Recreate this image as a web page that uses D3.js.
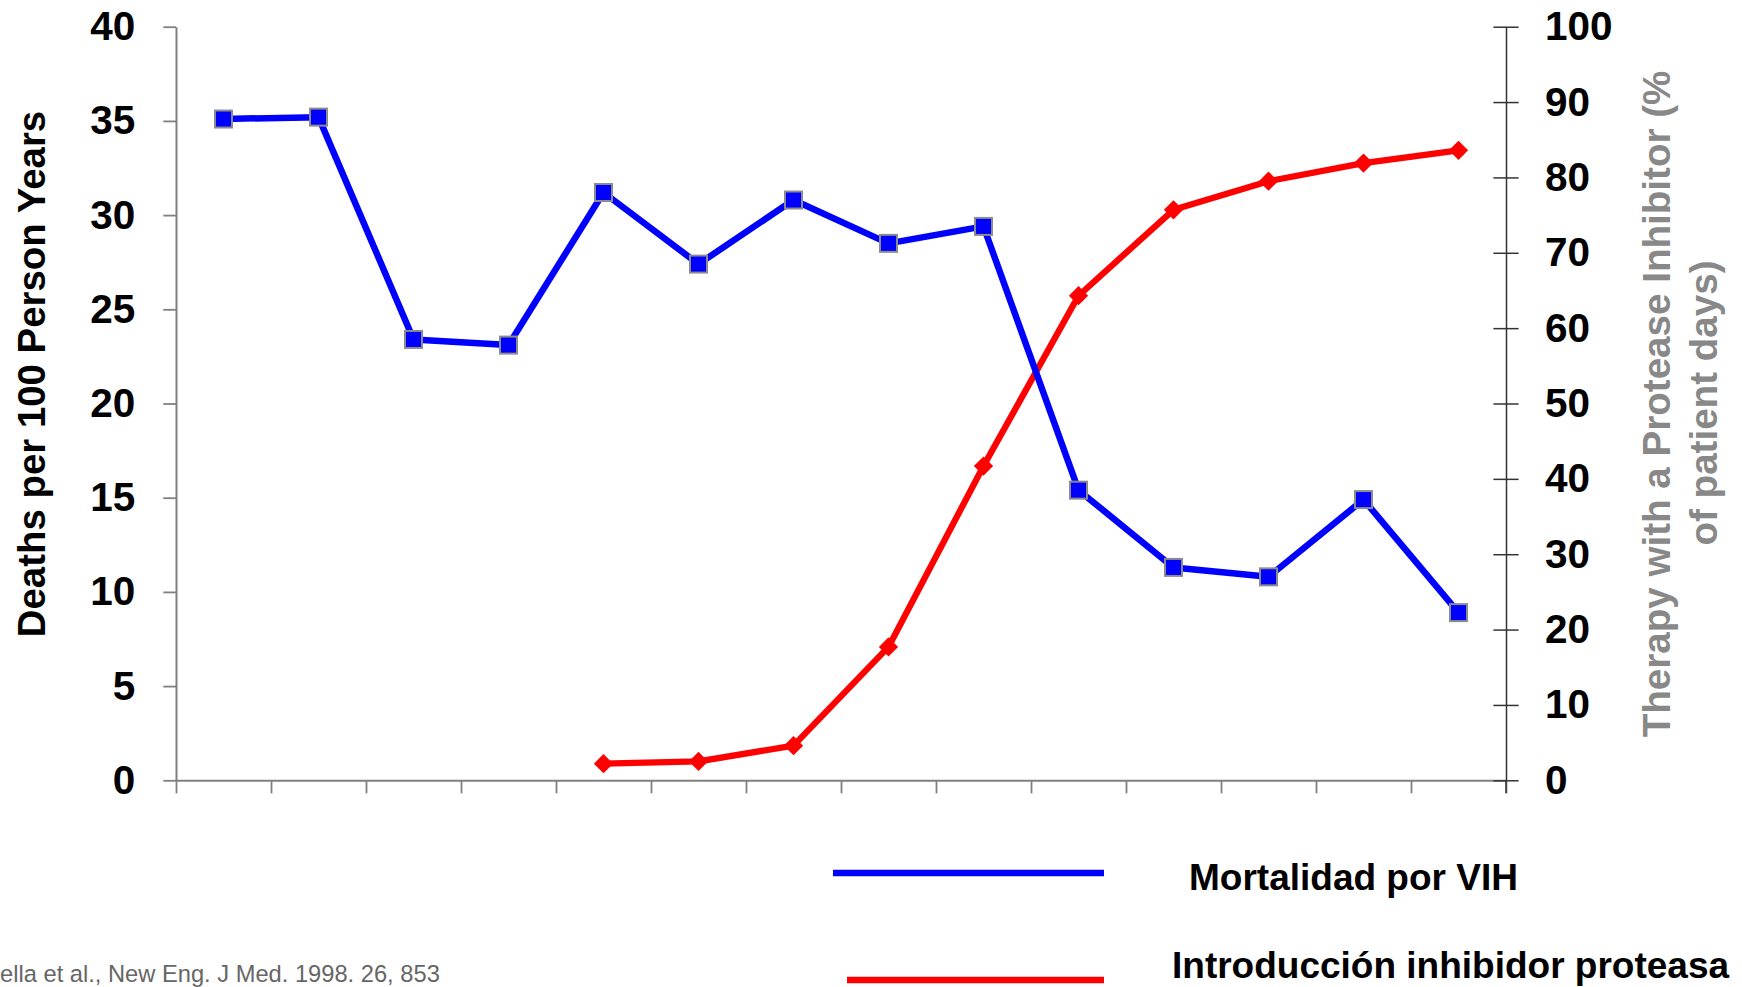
<!DOCTYPE html>
<html>
<head>
<meta charset="utf-8">
<script src="https://cdn.jsdelivr.net/npm/d3@7"></script>
<style>
  html, body { margin: 0; padding: 0; background: #ffffff; overflow: hidden; }
  svg { display: block; }
</style>
</head>
<body>
<svg id="chart" width="1742" height="987"></svg>
<script>
// Quarterly observation periods (HOPS cohort, Jan 1994 – Jun 1997)
const quarters = [
  "1994 Q1", "1994 Q2", "1994 Q3", "1994 Q4",
  "1995 Q1", "1995 Q2", "1995 Q3", "1995 Q4",
  "1996 Q1", "1996 Q2", "1996 Q3", "1996 Q4",
  "1997 Q1", "1997 Q2"
];

// Deaths per 100 person-years (left axis)
const mortality = [35.1, 35.2, 23.4, 23.1, 31.2, 27.4, 30.8, 28.5, 29.4, 15.4, 11.3, 10.8, 14.9, 8.9];

// Share of patient-days on a protease inhibitor, % (right axis)
const piTherapy = [null, null, null, null, 2.2, 2.5, 4.6, 17.7, 41.7, 64.3, 75.7, 79.5, 81.9, 83.6];

// Axis tick values
const leftTicks = [0, 5, 10, 15, 20, 25, 30, 35, 40];
const rightTicks = [0, 10, 20, 30, 40, 50, 60, 70, 80, 90, 100];

// Text
const leftTitle = "Deaths per 100 Person Years";
const rightTitle = ["Therapy with a Protease Inhibitor (%", "of patient days)"];
const legendLabels = ["Mortalidad por VIH", "Introducción inhibidor proteasa"];
const citation = "ella et al., New Eng. J Med. 1998. 26, 853";

const svg = d3.select("#chart");
const FONT = "'Liberation Sans', Arial, Helvetica, sans-serif";

const plot = { left: 176, right: 1506, top: 26.7, bottom: 780.3 };

const x = d3.scaleBand().domain(quarters).range([plot.left, plot.right]).padding(0);
const xEdge = d3.scaleLinear().domain([0, quarters.length]).range([plot.left, plot.right]);
const yL = d3.scaleLinear().domain([0, 40]).range([plot.bottom, plot.top]);
const yR = d3.scaleLinear().domain([0, 100]).range([plot.bottom, plot.top]);
const cx = q => x(q) + x.bandwidth() / 2;

// ---- Axes ----
const axisLeft = d3.axisLeft(yL).tickValues(leftTicks).tickSize(12.7).tickSizeOuter(0).tickPadding(28);
const gL = svg.append("g")
  .attr("transform", `translate(${plot.left},0)`)
  .call(axisLeft);
gL.attr("font-family", FONT).attr("font-size", 40.5).attr("font-weight", "bold");
gL.select(".domain").attr("stroke", "#808080").attr("stroke-width", 2);
gL.selectAll(".tick line").attr("stroke", "#808080").attr("stroke-width", 1.8);
gL.selectAll(".tick text").attr("fill", "#000");

const axisBottom = d3.axisBottom(xEdge).tickValues(d3.range(quarters.length + 1))
  .tickSize(13).tickSizeOuter(0).tickFormat("");
const gB = svg.append("g")
  .attr("transform", `translate(0,${plot.bottom})`)
  .call(axisBottom);
gB.select(".domain").attr("stroke", "#808080").attr("stroke-width", 2);
gB.selectAll(".tick line").attr("stroke", "#808080").attr("stroke-width", 1.8);

const axisRight = d3.axisRight(yR).tickValues(rightTicks).tickSize(12.6).tickSizeOuter(0).tickPadding(26.4);
const gR = svg.append("g")
  .attr("transform", `translate(${plot.right},0)`)
  .call(axisRight);
gR.attr("font-family", FONT).attr("font-size", 40.5).attr("font-weight", "bold");
gR.select(".domain").attr("stroke", "#333").attr("stroke-width", 1.5);
gR.selectAll(".tick line").attr("x1", -12.6).attr("x2", 12.6).attr("stroke", "#333").attr("stroke-width", 1.5);
gR.selectAll(".tick text").attr("fill", "#000");
// axis line continues down to the bottom tick length
gR.append("line").attr("x1", 0).attr("x2", 0)
  .attr("y1", plot.bottom).attr("y2", plot.bottom + 13)
  .attr("stroke", "#333").attr("stroke-width", 1.5);

// ---- Axis titles ----
svg.append("text")
  .attr("transform", `translate(45,374) rotate(-90)`)
  .attr("text-anchor", "middle")
  .attr("font-family", FONT).attr("font-size", 38.4).attr("font-weight", "bold")
  .attr("fill", "#000")
  .text(leftTitle);

const rtX = [1670, 1717];
const rtY = [404, 403];
rightTitle.forEach((t, i) => {
  svg.append("text")
    .attr("transform", `translate(${rtX[i]},${rtY[i]}) rotate(-90)`)
    .attr("text-anchor", "middle")
    .attr("font-family", FONT).attr("font-size", 38.6).attr("font-weight", "bold")
    .attr("fill", "#888888")
    .text(t);
});

// ---- Series ----
const piData = piTherapy.map((v, i) => ({ q: quarters[i], v })).filter(d => d.v != null);
const mortData = mortality.map((v, i) => ({ q: quarters[i], v }));

svg.append("path")
  .datum(piData)
  .attr("fill", "none").attr("stroke", "#ff0000").attr("stroke-width", 6.3)
  .attr("stroke-linejoin", "round")
  .attr("d", d3.line().x(d => cx(d.q)).y(d => yR(d.v)));

svg.append("g").selectAll("path")
  .data(piData).join("path")
  .attr("transform", d => `translate(${cx(d.q)},${yR(d.v)}) rotate(45)`)
  .attr("d", d3.symbol(d3.symbolSquare, 185))
  .attr("fill", "#ff0000");

svg.append("path")
  .datum(mortData)
  .attr("fill", "none").attr("stroke", "#0000ff").attr("stroke-width", 6.5)
  .attr("stroke-linejoin", "round")
  .attr("d", d3.line().x(d => cx(d.q)).y(d => yL(d.v)));

svg.append("g").selectAll("rect")
  .data(mortData).join("rect")
  .attr("x", d => cx(d.q) - 8.5).attr("y", d => yL(d.v) - 8.5)
  .attr("width", 17).attr("height", 17)
  .attr("fill", "#0000ff").attr("stroke", "#8c8c8c").attr("stroke-width", 2);

// ---- Legend ----
const legend = [
  { label: legendLabels[0], color: "#0000ff", x1: 833, x2: 1104, y: 873, tx: 1189, ty: 890 },
  { label: legendLabels[1], color: "#ff0000", x1: 847, x2: 1104, y: 980, tx: 1172, ty: 978 }
];
const lg = svg.append("g");
legend.forEach(d => {
  lg.append("line")
    .attr("x1", d.x1).attr("x2", d.x2).attr("y1", d.y).attr("y2", d.y)
    .attr("stroke", d.color).attr("stroke-width", 6.3);
  lg.append("text")
    .attr("x", d.tx).attr("y", d.ty)
    .attr("font-family", FONT).attr("font-size", 37).attr("font-weight", "bold")
    .attr("fill", "#000")
    .text(d.label);
});

// ---- Source ----
svg.append("text")
  .attr("x", 0).attr("y", 982)
  .attr("font-family", FONT).attr("font-size", 23.7)
  .attr("fill", "#666666")
  .text(citation);
</script>
</body>
</html>
